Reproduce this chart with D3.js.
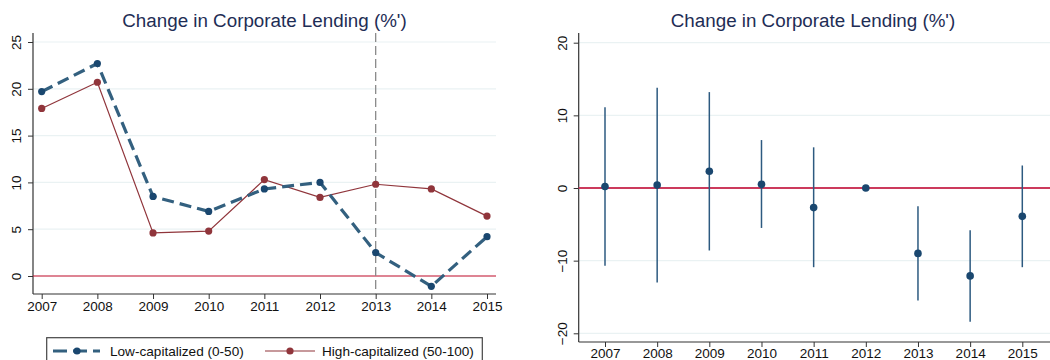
<!DOCTYPE html>
<html>
<head>
<meta charset="utf-8">
<script src="https://cdn.jsdelivr.net/npm/d3@7"></script>
<style>
  html, body { margin: 0; padding: 0; background: #fff; }
  svg { display: block; font-family: "Liberation Sans", Arial, sans-serif; }
</style>
</head>
<body>
<svg id="chart" width="1050" height="360"></svg>
<script>
// Years shared by both panels
const years = [2007, 2008, 2009, 2010, 2011, 2012, 2013, 2014, 2015];

// Left panel: average change in corporate lending by capitalization group
const lowCap  = [19.7, 22.7, 8.5, 6.9, 9.3, 10.0, 2.5, -1.1, 4.2];
const highCap = [17.9, 20.7, 4.6, 4.8, 10.3, 8.4, 9.8, 9.3, 6.4];
const leftTicks = [0, 5, 10, 15, 20, 25];
const eventYear = 2013;

// Right panel: coefficient estimates with confidence bands (2012 = base year)
const coef    = [0.2, 0.4, 2.3, 0.5, -2.7, 0.0, -9.0, -12.1, -3.9];
const ciLow   = [-10.7, -13.0, -8.6, -5.5, -10.9, null, -15.5, -18.4, -10.9];
const ciHigh  = [11.1, 13.8, 13.2, 6.6, 5.6, null, -2.5, -5.8, 3.1];
const rightTicks = [-20, -10, 0, 10, 20];

const titleText = "Change in Corporate Lending (%')";
const seriesNames = ["Low-capitalized (0-50)", "High-capitalized (50-100)"];

const navy = "#1a476f", navyLine = "#33607f", maroon = "#90353b";
const gridColor = "#eaf2f3", zeroColor = "#c8102e", titleColor = "#1e2d55";
const tickFont = "13.5px";

const svg = d3.select("#chart");

function drawAxes(g, x, y, yTicks, x0, x1, y0, y1, xPad) {
  // gridlines
  g.append("g").selectAll("line").data(yTicks).join("line")
    .attr("x1", x0).attr("x2", x1)
    .attr("y1", d => y(d)).attr("y2", d => y(d))
    .attr("stroke", gridColor).attr("stroke-width", 1.2);

  const ya = g.append("g").attr("transform", `translate(${x0},0)`)
    .call(d3.axisLeft(y).tickValues(yTicks).tickSize(5).tickPadding(4));
  ya.select(".domain").remove();
  ya.append("line").attr("x1", 0).attr("x2", 0).attr("y1", y0).attr("y2", y1)
    .attr("stroke", "#333").attr("stroke-width", 1.2);
  ya.selectAll(".tick line").attr("stroke", "#333");
  ya.selectAll(".tick text")
    .attr("fill", "#111").style("font-size", tickFont)
    .attr("transform", "rotate(-90)")
    .attr("x", 0).attr("y", -12).attr("dy", "0").attr("text-anchor", "middle");

  const xa = g.append("g").attr("transform", `translate(0,${y1})`)
    .call(d3.axisBottom(x).tickValues(years).tickFormat(d3.format("d")).tickSize(5).tickPadding(xPad));
  xa.select(".domain").remove();
  xa.append("line").attr("x1", x0).attr("x2", x1).attr("y1", 0).attr("y2", 0)
    .attr("stroke", "#333").attr("stroke-width", 1.2);
  xa.selectAll(".tick line").attr("stroke", "#333");
  xa.selectAll(".tick text").attr("fill", "#111").style("font-size", tickFont);
}

/* ---------- Left panel ---------- */
{
  const x0 = 33, x1 = 496, y0 = 33, y1 = 294;
  const x = d3.scaleLinear().domain([2007, 2015]).range([41.7, 487]);
  const y = d3.scaleLinear().domain([0, 25]).range([276, 42]);
  const g = svg.append("g");

  g.append("text").attr("x", 264.5).attr("y", 27).attr("text-anchor", "middle")
    .attr("fill", titleColor).style("font-size", "18.8px").text(titleText);

  drawAxes(g, x, y, leftTicks, x0, x1, y0, y1, 2.5);

  g.append("line").attr("x1", x0).attr("x2", x1).attr("y1", y(0)).attr("y2", y(0))
    .attr("stroke", zeroColor).attr("stroke-width", 1.2);

  g.append("line").attr("x1", x(eventYear)).attr("x2", x(eventYear))
    .attr("y1", y0).attr("y2", y1)
    .attr("stroke", "#8a8a8a").attr("stroke-width", 1.3).attr("stroke-dasharray", "9,4");

  const line = d3.line().x((d, i) => x(years[i])).y(d => y(d));

  g.append("path").datum(highCap).attr("d", line)
    .attr("fill", "none").attr("stroke", maroon).attr("stroke-width", 1.2);
  g.append("g").selectAll("circle").data(highCap).join("circle")
    .attr("cx", (d, i) => x(years[i])).attr("cy", d => y(d)).attr("r", 3.6)
    .attr("fill", maroon);

  g.append("path").datum(lowCap).attr("d", line)
    .attr("fill", "none").attr("stroke", navyLine).attr("stroke-width", 3.2)
    .attr("stroke-dasharray", "12,6");
  g.append("g").selectAll("circle").data(lowCap).join("circle")
    .attr("cx", (d, i) => x(years[i])).attr("cy", d => y(d)).attr("r", 3.6)
    .attr("fill", navy);

  // legend
  const lg = g.append("g");
  lg.append("rect").attr("x", 46.7).attr("y", 337.7).attr("width", 435.6).attr("height", 40)
    .attr("fill", "#fff").attr("stroke", "#444").attr("stroke-width", 1.2);
  const ly = 351;
  lg.append("line").attr("x1", 53).attr("x2", 100).attr("y1", ly).attr("y2", ly)
    .attr("stroke", navyLine).attr("stroke-width", 3.2).attr("stroke-dasharray", "14,6");
  lg.append("circle").attr("cx", 77).attr("cy", ly).attr("r", 3.6).attr("fill", navy);
  lg.append("text").attr("x", 110).attr("y", ly + 5).attr("fill", "#111")
    .style("font-size", "13.6px").text(seriesNames[0]);
  lg.append("line").attr("x1", 265).attr("x2", 315).attr("y1", ly).attr("y2", ly)
    .attr("stroke", maroon).attr("stroke-width", 1.2);
  lg.append("circle").attr("cx", 290).attr("cy", ly).attr("r", 3.6).attr("fill", maroon);
  lg.append("text").attr("x", 322).attr("y", ly + 5).attr("fill", "#111")
    .style("font-size", "13.6px").text(seriesNames[1]);
}

/* ---------- Right panel ---------- */
{
  const x0 = 578.7, x1 = 1050, y0 = 33, y1 = 342;
  const x = d3.scaleLinear().domain([2007, 2015]).range([605, 1022.3]);
  const y = d3.scaleLinear().domain([-20, 20]).range([333.3, 42.7]);
  const g = svg.append("g");

  g.append("text").attr("x", 813).attr("y", 27).attr("text-anchor", "middle")
    .attr("fill", titleColor).style("font-size", "18.8px").text(titleText);

  drawAxes(g, x, y, rightTicks, x0, x1, y0, y1, 1);

  g.append("line").attr("x1", x0).attr("x2", x1).attr("y1", y(0)).attr("y2", y(0))
    .attr("stroke", "#cc3a5c").attr("stroke-width", 1.8);

  const pts = years.map((yr, i) => ({ yr, b: coef[i], lo: ciLow[i], hi: ciHigh[i] }));

  g.append("g").selectAll("line").data(pts.filter(d => d.lo !== null)).join("line")
    .attr("x1", d => x(d.yr)).attr("x2", d => x(d.yr))
    .attr("y1", d => y(d.lo)).attr("y2", d => y(d.hi))
    .attr("stroke", "#2d5a80").attr("stroke-width", 1.5);

  g.append("g").selectAll("circle").data(pts).join("circle")
    .attr("cx", d => x(d.yr)).attr("cy", d => y(d.b)).attr("r", 3.8)
    .attr("fill", navy);
}
</script>
</body>
</html>
